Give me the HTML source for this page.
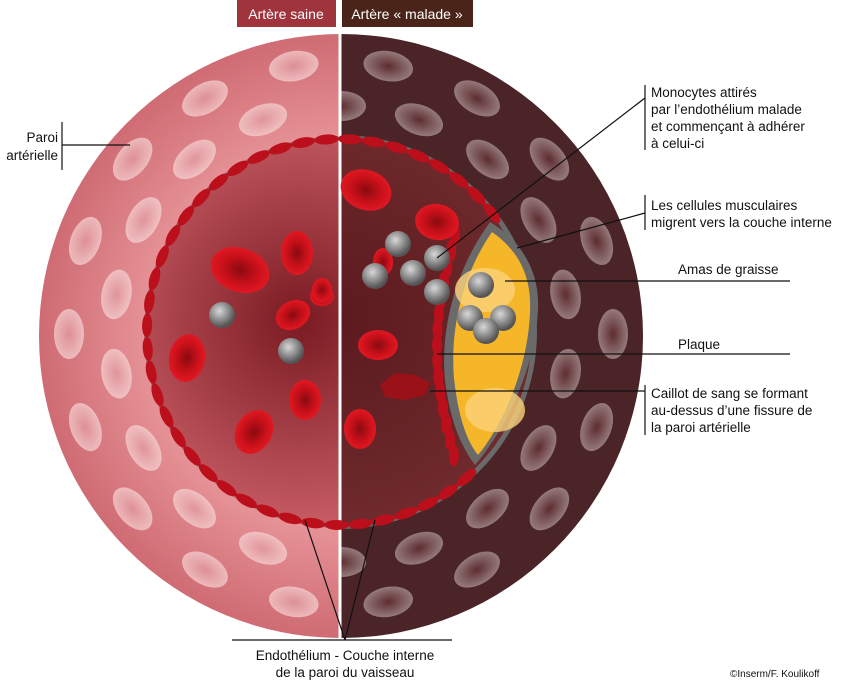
<!DOCTYPE html>
<html><head><meta charset="utf-8"><style>
body{margin:0;background:#fff;width:850px;height:684px;overflow:hidden}
svg{display:block}
text{font-family:"Liberation Sans",Arial,sans-serif;font-size:13.5px;fill:#111}
</style></head><body>
<svg id="s" width="850" height="684" viewBox="0 0 850 684" xmlns="http://www.w3.org/2000/svg">
<defs>
<radialGradient id="wallL" cx="341" cy="336" r="302" gradientUnits="userSpaceOnUse">
<stop offset="0.6" stop-color="#e8979b"/><stop offset="1" stop-color="#cf6b73"/></radialGradient>
<radialGradient id="lumL" cx="300" cy="320" r="200" gradientUnits="userSpaceOnUse">
<stop offset="0" stop-color="#7a1a22"/><stop offset="1" stop-color="#c45a62"/></radialGradient>
<radialGradient id="lumR" cx="340" cy="320" r="200" gradientUnits="userSpaceOnUse">
<stop offset="0" stop-color="#5c1a1f"/><stop offset="1" stop-color="#6e2a2c"/></radialGradient>
<radialGradient id="cellW" cx="0.5" cy="0.5" r="0.5">
<stop offset="0" stop-color="#e09aa0"/><stop offset="1" stop-color="#f8d8d8"/></radialGradient>
<radialGradient id="cellD" cx="0.5" cy="0.5" r="0.5">
<stop offset="0" stop-color="#6a3338"/><stop offset="1" stop-color="#c8b4b4"/></radialGradient>
<radialGradient id="ball" cx="0.4" cy="0.35" r="0.6">
<stop offset="0" stop-color="#d8d8d8"/><stop offset="1" stop-color="#555"/></radialGradient>
<radialGradient id="rbc" cx="0.5" cy="0.5" r="0.5">
<stop offset="0" stop-color="#8a0a10"/><stop offset="0.6" stop-color="#c8101a"/><stop offset="1" stop-color="#e01822"/></radialGradient>
<clipPath id="cl"><rect x="0" y="0" width="340" height="684"/></clipPath>
<clipPath id="cr"><rect x="340" y="0" width="510" height="684"/></clipPath>
</defs>
<rect x="237" y="0" width="99" height="27" fill="#a0343c"/>
<text x="286" y="19" text-anchor="middle" style="fill:#fff;font-size:14px">Artère saine</text>
<rect x="342" y="0" width="131" height="27" fill="#4a2418"/>
<text x="407" y="19" text-anchor="middle" style="fill:#fff;font-size:14px">Artère « malade »</text>
<g clip-path="url(#cl)">
<circle cx="341" cy="336" r="302" fill="url(#wallL)"/>
<g id="ringL"></g>
<circle cx="340" cy="332" r="196" fill="#8a7070"/>
<circle cx="340" cy="332" r="192" fill="url(#lumL)"/>
</g>
<g clip-path="url(#cr)">
<circle cx="341" cy="336" r="302" fill="#4a2426"/>
<g id="ringR"></g>
<circle cx="340" cy="332" r="197" fill="#6a6a6a"/>
<circle cx="340" cy="332" r="192" fill="url(#lumR)"/>
<path d="M490,222 C455,270 440,330 445,380 C450,420 460,445 475,465 C505,430 535,370 538,310 C540,270 520,240 490,222Z" fill="#6a6a6a"/>
<path d="M492,232 C462,275 450,330 454,378 C458,415 466,440 478,455 C503,425 528,368 530,312 C532,272 515,248 492,232Z" fill="#f6b62a"/>
<ellipse cx="485" cy="290" rx="30" ry="22" fill="#fbd27a" opacity="0.8"/>
<ellipse cx="495" cy="410" rx="30" ry="22" fill="#fbd27a" opacity="0.8"/>
<path d="M380,385 l15,-12 20,2 15,8 -5,12 -20,5 -20,-3z" fill="#9a1218"/>
</g>
<line x1="340" y1="27" x2="340" y2="684" stroke="#fff" stroke-width="3"/>
<g id="endo"></g>
<g id="rbcs"></g>
<g id="balls"></g>
<g stroke="#111" stroke-width="1.2" fill="none">
<path d="M62,122 V170 M62,145 H130"/>
<path d="M645,85 V150 M645,98 L437,258"/>
<path d="M645,195 V230 M645,213 L517,248"/>
<path d="M505,281 H790"/>
<path d="M437,354 H790"/>
<path d="M645,385 V435 M645,391 H430"/>
<path d="M232,640 H452 M305,520 L345,640 M375,520 L345,640"/>
</g>
<text x="58" y="142" text-anchor="end">Paroi</text>
<text x="58" y="160" text-anchor="end">artérielle</text>
<text x="651" y="97">Monocytes attirés</text>
<text x="651" y="114">par l’endothélium malade</text>
<text x="651" y="131">et commençant à adhérer</text>
<text x="651" y="148">à celui-ci</text>
<text x="651" y="210">Les cellules musculaires</text>
<text x="651" y="227">migrent vers la couche interne</text>
<text x="678" y="274">Amas de graisse</text>
<text x="678" y="349">Plaque</text>
<text x="651" y="398">Caillot de sang se formant</text>
<text x="651" y="415">au-dessus d’une fissure de</text>
<text x="651" y="432">la paroi artérielle</text>
<text x="345" y="660" text-anchor="middle">Endothélium - Couche interne</text>
<text x="345" y="677" text-anchor="middle">de la paroi du vaisseau</text>
<text x="730" y="677" style="font-size:10px">©Inserm/F. Koulikoff</text>
</svg>
<script>
var NS="http://www.w3.org/2000/svg";
function el(p,t,a){var e=document.createElementNS(NS,t);for(var k in a)e.setAttribute(k,a[k]);document.getElementById(p).appendChild(e);return e;}
var cx=341,cy=334;
[[228,0],[272,10]].forEach(function(r,i){
 for(var a=-90;a<270;a+=20){
  var ang=(a+r[1])*Math.PI/180, x=cx+r[0]*Math.cos(ang), y=cy+r[0]*Math.sin(ang);
  var left=x<340;
  el(left?"ringL":"ringR","ellipse",{cx:x,cy:y,rx:25,ry:15,transform:"rotate("+(a+r[1]+90)+" "+x+" "+y+")",fill:left?"url(#cellW)":"url(#cellD)",opacity:left?0.7:0.6});
 }
});
for(var a=0;a<360;a+=7){
 var ang=a*Math.PI/180,x=340+193*Math.cos(ang),y=332+193*Math.sin(ang);
 if(x>440&&y>225&&y<470)continue;
 el("endo","ellipse",{cx:x,cy:y,rx:12,ry:5,transform:"rotate("+(a+90)+" "+x+" "+y+")",fill:"#bb0f1c"});
}
for(var t=0;t<=1;t+=0.07){var y=235+t*225,x=455-Math.sin(t*Math.PI)*18;
 el("endo","ellipse",{cx:x,cy:y,rx:5,ry:11,fill:"#bb0f1c"});}
[[240,270,30,22,20],[297,253,16,22,0],[322,296,12,10,0],[293,315,18,14,-30],[187,358,18,24,10],[305,400,16,20,0],[254,432,18,23,30],[366,190,26,20,20],[437,222,22,18,10],[378,345,20,15,0],[360,429,16,20,0],[383,262,10,14,0],[322,290,10,12,0]].forEach(function(c){
 el("rbcs","ellipse",{cx:c[0],cy:c[1],rx:c[2],ry:c[3],transform:"rotate("+c[4]+" "+c[0]+" "+c[1]+")",fill:"url(#rbc)"});
});
[[222,315],[291,351],[398,244],[375,276],[413,273],[437,258],[437,292],[481,285],[470,318],[503,318],[486,331]].forEach(function(b){
 el("balls","circle",{cx:b[0],cy:b[1],r:13,fill:"url(#ball)"});
});
</script>
</body></html>
